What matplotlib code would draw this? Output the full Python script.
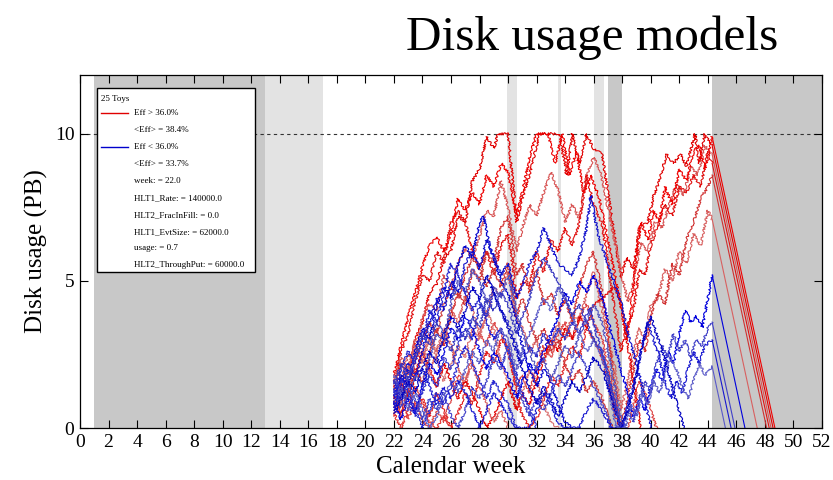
import matplotlib
matplotlib.use("Agg")
import matplotlib.pyplot as plt
import numpy as np

plt.rcParams['font.family'] = ['Liberation Serif', 'DejaVu Serif']

# Toy disk usage paths, (week, PB) waypoints
# Eff > 36 % toys
toy_r1 = [(22,1.3),(22.5,2.2),(23,1.8),(23.5,3.0),(24,3.6),(24.5,4.6),(25,4.9),(25.5,5.8),(26,6.0),(26.5,7.2),(27,7.0),(27.5,8.4),(28,8.8),(28.5,9.9),(29,9.5),(29.3,10),(30,10),(30.6,7.0),(31,7.8),(31.5,8.6),(32.2,10),(33.6,10),(34.1,8.6),(34.5,10),(35,9.0),(35.5,10),(36,9.5),(36.6,9.3),(37.9,5.1),(38.3,5.8),(38.8,5.4),(39.2,6.8),(39.8,7.0),(40.2,7.9),(40.6,8.4),(41.1,9.3),(41.6,9.0),(42.1,9.3),(42.5,8.9),(43.1,10),(43.4,9.0),(43.8,10),(44.3,9.6),(48.57,0)]
toy_r2 = [(22,0.8),(22.5,1.6),(23,2.5),(23.5,2.3),(24,3.8),(24.5,4.2),(25,4.0),(25.5,5.2),(26,4.8),(26.5,5.6),(27,6.1),(27.5,5.8),(28,6.5),(28.5,7.4),(29,7.2),(29.5,8.4),(30,7.5),(30.6,6.0),(31,6.8),(31.5,7.6),(32,7.2),(32.5,8.0),(33,8.7),(33.5,8.1),(34,7.0),(34.5,7.6),(35,7.1),(35.5,8.6),(36,9.2),(36.5,8.7),(37.9,5.3),(38.4,4.3),(38.8,5.0),(39.3,6.3),(39.8,6.0),(40.3,7.0),(40.8,6.8),(41.3,7.6),(41.8,8.3),(42.3,7.9),(42.8,8.9),(43.3,8.6),(43.8,9.6),(44.3,9.3),(48.43,0)]
toy_r3 = [(22,1.5),(22.5,2.6),(23,3.2),(23.5,4.3),(24,5.2),(24.5,5.0),(25,6.0),(25.5,5.6),(26,7.0),(26.5,7.4),(27,7.0),(27.5,6.0),(28,5.5),(28.5,6.0),(29,5.2),(29.5,6.2),(30,6.6),(30.6,4.4),(31,5.0),(31.5,4.8),(32,6.0),(32.5,5.3),(33,6.4),(33.5,6.0),(34,6.8),(34.5,6.2),(35,7.0),(35.5,8.6),(36,7.6),(36.6,6.9),(37.9,2.6),(38.3,3.4),(38.8,4.0),(39.2,5.4),(39.6,5.2),(40,6.2),(40.5,6.9),(41,7.6),(41.5,7.2),(42,8.2),(42.5,8.0),(43,8.6),(43.5,8.2),(44,9.4),(44.3,9.0),(48.3,0)]
toy_r4 = [(22,0.6),(22.5,1.2),(23,2.1),(23.5,1.6),(24,2.4),(24.5,3.2),(25,2.6),(25.5,3.0),(26,4.0),(26.5,3.6),(27,4.5),(27.5,4.0),(28,3.2),(28.5,3.8),(29,4.8),(29.5,4.5),(30,5.3),(30.6,3.6),(31,3.4),(31.5,2.6),(32,3.0),(32.5,2.2),(33,2.8),(33.5,3.6),(34,3.0),(34.5,3.9),(35,3.6),(35.5,4.6),(36,5.3),(36.6,4.0),(37.5,2.0),(37.9,0.6),(38.3,1.4),(38.8,2.6),(39.2,3.4),(39.6,3.0),(40,4.2),(40.5,4.4),(41,5.4),(41.5,5.0),(42,6.0),(42.5,5.6),(43,6.6),(43.5,6.2),(44,7.4),(44.3,7.1),(47.46,0)]
toy_r5 = [(22,1.8),(22.5,2.8),(23,3.8),(23.5,4.6),(24,5.5),(24.5,6.2),(25,6.5),(25.5,6.0),(26,6.6),(26.5,7.8),(27,7.4),(27.5,8.0),(28,7.6),(28.5,8.6),(29,8.2),(29.5,9.0),(30,8.7),(30.6,7.2),(31,8.0),(31.5,9.2),(32,10),(32.8,10),(33.3,9.0),(33.8,10),(34.3,8.6),(34.8,9.4),(35.3,8.0),(35.8,8.6),(36.4,7.8),(36.9,6.6),(37.9,4.2),(38.3,3.0),(38.6,4.0),(39,5.8),(39.3,7.0),(39.8,6.4),(40.2,7.4),(40.6,7.0),(41,8.2),(41.5,7.6),(42,8.8),(42.5,8.4),(43,9.4),(43.4,9.6),(43.8,8.8),(44.3,9.9),(48.7,0)]
toy_r6 = [(22,0.9),(22.5,0.4),(23,1.2),(23.5,2.0),(24,1.5),(24.5,2.5),(25,3.4),(25.5,2.8),(26,3.8),(26.5,4.6),(27,4.2),(27.5,5.4),(28,5.0),(28.5,6.0),(29,5.6),(29.5,6.8),(30,7.2),(30.6,5.2),(31,5.6),(31.5,4.6),(32,5.4),(32.5,4.2),(33,4.6),(33.5,3.8),(34,4.4),(34.5,3.6),(35,4.8),(35.5,5.6),(36,6.0),(36.6,4.6),(37.9,0.0),(38.3,0.8),(38.8,2.0),(39.2,3.0),(39.6,2.6),(40,3.8),(40.5,4.6),(41,4.2),(41.5,5.6),(42,5.2),(42.5,6.4),(43,7.0),(43.5,7.8),(44,8.2),(44.3,8.6),(48.12,0)]
toy_r7 = [(22,0.4),(22.5,1.0),(23,0.3),(23.5,0.9),(24,0.2),(24.5,0.0),(25,0.6),(25.5,0.2),(26,1.0),(26.5,1.8),(27,1.4),(27.5,2.6),(28,3.2),(28.5,2.8),(29,3.6),(29.5,3.2),(30,2.6),(30.6,1.4),(31,1.8),(31.5,1.2),(32,2.0),(32.5,2.8),(33,2.4),(33.5,3.2),(34,3.6),(34.5,3.0),(35,3.8),(35.5,4.2),(36,3.6),(36.6,3.0),(37.9,0.0),(38.4,0.0),(38.8,0.8),(39.2,1.6),(39.6,1.2),(40,0.6),(40.4,0.0)]
toy_r8 = [(22,1.1),(22.5,0.5),(23,1.3),(23.5,0.6),(24,1.0),(24.5,0.4),(25,1.2),(25.5,0.6),(26,0.0),(26.5,0.5),(27,1.2),(27.5,0.8),(28,1.8),(28.5,2.6),(29,2.2),(29.5,3.0),(30,2.8),(30.6,1.2),(31,0.4),(31.5,0.0),(32,0.3),(32.5,1.0),(33,1.8),(33.5,1.4),(34,2.2),(34.5,2.8),(35,2.4),(35.5,3.4),(36,3.0),(36.6,2.4),(37.6,0.3),(37.9,0.0)]
toy_r9 = [(22,1.4),(22.5,0.8),(23,1.9),(23.5,2.8),(24,2.2),(24.5,3.0),(25,2.4),(25.5,1.6),(26,2.2),(26.5,2.8),(27,2.4),(27.5,3.4),(28,3.0),(28.5,4.0),(29,3.4),(29.5,2.2),(30,1.6),(30.6,0.6),(31,1.2),(31.5,2.0),(32,1.6),(32.5,0.8),(33,0.2),(33.5,0.0)]
toy_r10 = [(22,0.7),(22.5,1.5),(23,1.0),(23.5,1.8),(24,2.6),(24.5,2.0),(25,1.4),(25.5,2.2),(26,1.6),(26.5,1.0),(27,1.6),(27.5,1.2),(28,0.6),(28.5,0.0),(29,0.4),(29.5,1.0),(30,1.6),(30.6,0.6),(31,1.2),(31.5,0.8),(32,1.6),(32.5,2.4),(33,3.0),(33.5,2.6),(34,3.4),(34.5,3.0),(35,3.8),(35.5,3.4),(36,4.2),(36.6,4.4),(37.5,4.8),(37.9,4.2),(38.4,2.8),(38.8,1.6),(39.3,0.0)]
toy_r11 = [(22,0.5),(22.5,0.0),(23,0.6),(23.5,1.4),(24,0.8),(24.5,0.2),(25,0.0),(25.5,0.4),(26,0.0)]
toy_r12 = [(22,1.6),(22.5,2.4),(23,2.0),(23.5,3.0),(24,2.6),(24.5,1.8),(25,2.6),(25.5,3.4),(26,2.8),(26.5,2.0),(27,1.6),(27.5,2.2),(28,1.4),(28.5,0.8),(29,0.2),(29.5,0.6),(30,0.0)]
toy_r13 = [(22,1.0),(22.5,1.8),(23,1.4),(23.5,2.2),(24,3.0),(24.5,3.6),(25,3.2),(25.5,4.2),(26,4.8),(26.5,4.4),(27,5.2),(27.5,5.8),(28,5.4),(28.5,4.8),(29,5.4),(29.5,4.8),(30,5.6),(30.6,3.8),(31,4.4),(31.5,3.6),(32,3.0),(32.5,3.4),(33,2.6),(33.5,3.0),(34,2.2),(34.5,1.6),(35,2.0),(35.5,1.2),(36,1.6),(36.6,1.0),(37.3,0.0)]

# Eff < 36 % toys
toy_b1 = [(22,1.0),(22.5,1.8),(23,1.4),(23.5,2.6),(24,3.4),(24.5,3.0),(25,4.2),(25.5,4.8),(26,4.4),(26.5,5.6),(27,6.2),(27.5,5.8),(28,7.0),(28.3,7.2),(28.7,6.2),(29,5.8),(29.5,5.0),(30,4.6),(30.6,3.6),(31,2.8),(31.5,2.0),(32,1.4),(32.5,2.0),(33,1.6),(33.5,0.8),(34,0.2),(34.5,0.0)]
toy_b2 = [(22,1.6),(22.5,1.0),(23,2.0),(23.5,1.6),(24,2.6),(24.5,3.6),(25,4.4),(25.5,4.0),(26,5.0),(26.5,4.6),(27,5.6),(27.5,6.0),(28,5.4),(28.5,6.4),(29,5.8),(29.5,5.2),(30,5.6),(30.6,4.4),(31,4.8),(31.5,5.6),(32,6.0),(32.5,6.8),(33,6.2),(33.5,5.6),(34,5.4),(34.5,5.2),(35,5.8),(35.5,6.8),(35.8,7.9),(36.3,6.6),(36.7,6.0),(37.9,4.3),(38.5,3.0),(39,2.2),(39.5,1.2),(40,0.0)]
toy_b3 = [(22,0.8),(22.5,1.4),(23,1.0),(23.5,1.8),(24,1.4),(24.5,2.4),(25,3.2),(25.5,3.0),(26,4.2),(26.5,5.0),(27,4.6),(27.5,5.4),(28,5.0),(28.5,4.2),(29,4.8),(29.5,4.4),(30,5.2),(30.6,4.0),(31,3.2),(31.5,2.6),(32,2.0),(32.5,2.4),(33,1.6),(33.5,2.2),(34,2.8),(34.5,2.4),(35,3.2),(35.5,3.6),(36,4.2),(36.6,3.6),(37.9,0.4),(38.3,0.0)]
toy_b4 = [(22,1.2),(22.5,2.0),(23,2.6),(23.5,2.2),(24,3.0),(24.5,4.0),(25,3.6),(25.5,4.6),(26,5.6),(26.5,5.2),(27,4.6),(27.5,4.0),(28,4.4),(28.5,3.6),(29,3.0),(29.5,3.4),(30,2.6),(30.6,1.8),(31,1.2),(31.5,0.6),(32,0.0)]
toy_b5 = [(22,0.6),(22.5,1.2),(23,0.8),(23.5,0.4),(24,1.2),(24.5,1.8),(25,1.4),(25.5,2.4),(26,2.0),(26.5,2.8),(27,3.4),(27.5,3.0),(28,4.2),(28.5,3.8),(29,4.6),(29.5,4.0),(30,3.6),(30.6,2.8),(31,2.2),(31.5,2.8),(32,2.4),(32.5,3.2),(33,2.8),(33.5,3.4),(34,3.0),(34.5,3.6),(35,3.2),(35.7,4.1),(36.3,3.0),(37,1.8),(37.9,0.0)]
toy_b6 = [(22,0.9),(22.5,0.3),(23,1.0),(23.5,0.5),(24,1.4),(24.5,2.2),(25,1.8),(25.5,2.6),(26,3.4),(26.5,3.0),(27,3.8),(27.5,3.4),(28,2.6),(28.5,2.0),(29,2.6),(29.5,2.2),(30,1.8),(30.6,1.0),(31,1.6),(31.5,2.2),(32,1.8),(32.5,2.6),(33,3.2),(33.5,3.8),(34,4.6),(34.5,4.2),(35,5.0),(35.5,4.6),(36,5.2),(36.6,4.4),(37.9,2.0),(38.4,1.2),(38.8,0.4),(39.2,1.0),(39.6,0.6),(40,1.4),(40.4,2.0),(40.8,1.6),(41.2,2.6),(41.6,2.2),(42,3.2),(42.4,4.0),(42.8,3.6),(43.2,3.8),(43.6,3.4),(44,4.4),(44.3,5.2),(46.6,0)]
toy_b7 = [(22,1.3),(22.5,0.7),(23,1.5),(23.5,0.9),(24,0.3),(24.5,1.0),(25,0.6),(25.5,1.2),(26,0.4),(26.5,0.0),(27,0.6),(27.5,1.4),(28,1.0),(28.5,1.6),(29,2.4),(29.5,2.0),(30,2.8),(30.6,1.6),(31,1.0),(31.5,0.4),(32,1.0),(32.5,0.6),(33,1.2),(33.5,1.8),(34,1.4),(34.5,2.0),(35,2.6),(35.5,2.0),(36,1.4),(36.6,0.8),(37.3,0.0),(38,0.0),(38.4,0.6),(38.8,0.2),(39.2,1.0),(39.6,1.6),(40,1.2),(40.4,2.2),(40.8,2.8),(41.2,2.4),(41.6,3.2),(42,2.6),(42.4,3.0),(42.8,2.4),(43.2,3.0),(43.6,2.8),(44,3.4),(44.3,3.6),(45.9,0)]
toy_b8 = [(22,0.7),(22.5,1.5),(23,2.2),(23.5,1.8),(24,2.0),(24.5,1.4),(25,0.8),(25.5,1.4),(26,1.0),(26.5,1.6),(27,1.2),(27.5,0.6),(28,0.0),(28.5,0.6),(29,1.2),(29.5,0.8),(30,0.4),(30.6,0.0),(31.5,0.0),(32,0.6),(32.5,1.2),(33,0.8),(33.5,0.2),(34,0.0),(35,0.0),(35.5,0.6),(36,1.0),(36.6,0.6),(37.2,0.0),(38,0.0),(38.5,1.0),(39,1.8),(39.4,2.8),(39.8,3.6),(40.2,3.0),(40.6,2.4),(41,1.6),(41.4,1.0),(41.8,1.6),(42.2,1.2),(42.6,2.0),(43,2.6),(43.4,2.2),(43.8,2.8),(44.3,3.0),(45.63,0)]
toy_b9 = [(22,1.8),(22.5,1.2),(23,0.6),(23.5,1.2),(24,0.6),(24.5,0.0),(25,0.4),(25.5,1.0),(26,1.6),(26.5,1.2),(27,2.0),(27.5,2.6),(28,2.2),(28.5,3.0),(29,2.6),(29.5,3.4),(30,3.0),(30.6,2.0),(31,2.6),(31.5,3.2),(32,3.8),(32.5,4.4),(33,4.0),(33.5,4.8),(34,4.4),(34.5,3.8),(35,3.2),(35.5,2.6),(36,3.0),(36.6,2.4),(37.6,0.0),(38.2,0.0),(38.6,0.8),(39,0.4),(39.4,1.2),(39.8,0.8),(40.2,1.6),(40.6,1.2),(41,1.8),(41.4,2.4),(41.8,2.0),(42.2,1.4),(42.6,1.0),(43,1.6),(43.4,2.2),(43.8,1.8),(44.3,2.1),(45.23,0)]
toy_b10 = [(22,0.5),(22.5,1.0),(23,1.6),(23.5,1.2),(24,2.0),(24.5,2.6),(25,2.2),(25.5,3.2),(26,3.8),(26.5,3.4),(27,4.0),(27.5,4.8),(28,4.4),(28.5,5.2),(29,4.6),(29.5,4.0),(30,3.4),(30.6,2.6),(31,2.0),(31.5,1.4),(32,0.8),(32.5,1.4),(33,1.0),(33.5,0.4),(34,1.0),(34.5,1.6),(35,1.2),(35.5,1.8),(36,2.4),(36.6,2.0),(37.9,0.0),(38.4,0.6),(38.8,1.4),(39.2,2.4),(39.6,3.2),(40,3.8),(40.4,3.2),(40.8,2.6),(41.2,2.0),(41.6,1.2),(42,0.6),(42.3,0.0)]
toy_b11 = [(22,1.1),(22.5,1.7),(23,1.2),(23.5,0.6),(24,0.0),(24.5,0.6),(25,1.2),(25.5,0.8),(26,1.4),(26.5,2.2),(27,2.8),(27.5,2.2),(28,1.6),(28.5,1.0),(29,1.6),(29.5,1.2),(30,0.8),(30.6,0.0)]
toy_b12 = [(22,1.5),(22.5,2.2),(23,1.6),(23.5,2.4),(24,3.2),(24.5,2.8),(25,3.6),(25.5,3.2),(26,2.6),(26.5,3.4),(27,3.0),(27.5,3.8),(28,3.4),(28.5,4.4),(29,4.0),(29.5,4.6),(30,4.2),(30.6,3.2),(31,3.8),(31.5,4.4),(32,5.2),(32.5,5.8),(33,5.4),(33.5,5.0),(34,4.4),(34.5,3.8),(35,4.2),(35.5,3.6),(36,3.0),(36.6,2.6),(37.9,0.0)]

red_toys = [toy_r1, toy_r2, toy_r3, toy_r4, toy_r5, toy_r6, toy_r7,
            toy_r8, toy_r9, toy_r10, toy_r11, toy_r12, toy_r13]
blue_toys = [toy_b1, toy_b2, toy_b3, toy_b4, toy_b5, toy_b6,
             toy_b7, toy_b8, toy_b9, toy_b10, toy_b11, toy_b12]

# LHC schedule: (start week, end week)
dark_periods = [(1, 13), (37, 38), (44.3, 52)]
light_periods = [(13, 17), (29.9, 30.6), (33.5, 33.7), (36.0, 36.7)]

disk_limit = 10
legend_lines = ["25 Toys", "Eff > 36.0%", "<Eff> = 38.4%", "Eff < 36.0%",
                "<Eff> = 33.7%", "week: = 22.0", "HLT1_Rate: = 140000.0",
                "HLT2_FracInFill: = 0.0", "HLT1_EvtSize: = 62000.0",
                "usage: = 0.7", "HLT2_ThroughPut: = 60000.0"]

red_shades = ['#e00000', '#d85555', '#e01010', '#d86060', '#ee0000', '#d03030',
              '#dd4444', '#e02020', '#d87070', '#e00000', '#e23030', '#d86060', '#cc3333']
blue_shades = ['#0000cc', '#1010cc', '#5050c0', '#2020d0', '#3030c8', '#0000dd',
               '#4040c8', '#1818d0', '#5a5ac8', '#0000c0', '#2828d0', '#3838c0']

fig = plt.figure(figsize=(8.33, 4.8), dpi=100)
ax = fig.add_axes([0.096, 0.1083, 0.8908, 0.7355])

for a, b in dark_periods:
    ax.axvspan(a, b, color='#c8c8c8', lw=0, zorder=0)
for a, b in light_periods:
    ax.axvspan(a, b, color='#e3e3e3', lw=0, zorder=0)

ax.axhline(disk_limit, color='#333333', ls=(0, (3, 3)), lw=0.8, zorder=1)


def draw_toy(points, color):
    w = np.array([p[0] for p in points])
    v = np.array([p[1] for p in points])
    # the drain after the last run is smooth, the rest is a jittery walk
    if w[-1] > 44.3 and v[-1] == 0:
        walk = slice(0, len(w) - 1)
        ax.plot(w[-2:], v[-2:], color=color, lw=0.8, zorder=2)
    else:
        walk = slice(0, len(w))
    ln, = ax.plot(w[walk], v[walk], color=color, lw=0.8, zorder=2)
    ln.set_sketch_params(scale=1.2, length=4, randomness=4)


for pts, c in zip(red_toys, red_shades):
    draw_toy(pts, c)
for pts, c in zip(blue_toys, blue_shades):
    draw_toy(pts, c)

ax.set_xlim(0, 52)
ax.set_ylim(0, 12)
ax.set_xticks(np.arange(0, 53, 2))
ax.set_yticks([0, 5, 10])
ax.tick_params(direction='in', top=True, right=True, length=6, width=0.8,
               labelsize=14, pad=4)
for s in ax.spines.values():
    s.set_linewidth(0.9)
ax.set_xlabel("Calendar week", fontsize=18, labelpad=4)
ax.set_ylabel("Disk usage (PB)", fontsize=18, labelpad=5)

fig.text(0.934, 0.896, "Disk usage models", fontsize=35.5, ha='right', va='baseline')

# Legend box with toy settings
box_l, box_r = 97 / 833, 255 / 833
box_t, box_b = 1 - 88 / 480, 1 - 272 / 480
fig.patches.append(plt.Rectangle((box_l, box_b), box_r - box_l, box_t - box_b,
                                 transform=fig.transFigure, facecolor='white',
                                 edgecolor='black', lw=1.0, zorder=5))
row_y = [99, 113, 130, 147, 164, 181, 198, 215, 232, 248, 265]
for i, txt in enumerate(legend_lines):
    y = 1 - row_y[i] / 480
    x = 101 / 833 if i == 0 else 134 / 833
    fig.text(x, y, txt, fontsize=6.5, va='center', ha='left', zorder=6)
for i, c in [(1, '#e00000'), (3, '#0000cc')]:
    y = 1 - row_y[i] / 480
    fig.add_artist(plt.Line2D([101 / 833, 128 / 833], [y, y], color=c, lw=1.0,
                              transform=fig.transFigure, zorder=6))

fig.savefig("out.png", dpi=100)
